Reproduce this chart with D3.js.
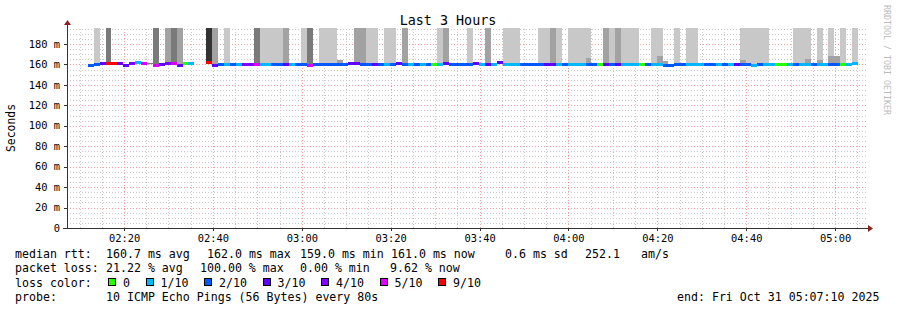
<!DOCTYPE html>
<html>
<head>
<meta charset="utf-8">
<script src="https://cdn.jsdelivr.net/npm/d3@7"></script>
<style>
  html, body { margin: 0; padding: 0; background: #fff; }
  svg { display: block; font-family: "DejaVu Sans Mono", monospace; }
</style>
</head>
<body>
<div id="chart"></div>
<script>
// time window of the graph and the rrd step grid
const viewStart = new Date(2025, 9, 31, 2, 7, 10);
const viewEnd = new Date(2025, 9, 31, 5, 7, 10);
const firstStep = new Date(2025, 9, 31, 2, 11, 50);
const stepSeconds = 80;

// median rtt per step (ms), null = no answer
const median = [
  159.6, 160.8, 160.9, 161.2, 161.2, 161.0, 159.8, 161.0, 162.0, 161.0,
  null, 159.3, 160.6, 161.2, 161.3, 159.8, 161.0, 161.0, null, null,
  162.0, 159.9, 160.4, 160.2, 160.8, 160.6, 160.4, 160.2, 160.2, 160.6,
  160.6, 160.5, 160.3, 160.8, 160.4, 160.3, 160.3, 159.8, 160.4, 160.3,
  160.5, 160.5, 160.4, 160.3, 161.0, 160.9, 160.5, 160.5, 160.8, 160.4,
  160.3, 160.5, 160.9, 160.5, 160.6, 160.4, 160.6, 160.6, 160.5, 160.3,
  161.4, 160.8, 160.4, 160.5, 160.4, 161.0, 160.3, 160.6, 160.3, 162.0,
  160.4, 160.3, 160.5, 160.4, 160.4, 160.5, 160.5, 160.8, 160.6, 160.4,
  160.7, 160.3, 160.3, 160.2, 160.5, 160.6, 160.4, 160.6, 160.7, 160.8,
  160.3, 160.3, 160.4, 160.4, 160.5, 160.3, 160.3, 159.9, 159.8, 160.5,
  160.5, 160.4, 160.4, 160.3, 160.4, 160.5, 160.3, 160.5, 160.4, 160.8,
  160.6, 160.5, 159.2, 160.5, 160.4, 160.3, 160.5, 160.5, 160.4, 160.6,
  160.4, 160.3, 160.5, 160.4, 160.4, 160.6, 160.6, 160.5, 160.4, 161.0
];

// lost pings out of 10 per step
const loss = [
  2, 2, 3, 9, 9, 3, 3, 4, 1, 5,
  null, 5, 3, 4, 5, 3, 0, 1, null, null,
  9, 3, 2, 1, 2, 1, 4, 4, 5, 1,
  1, 2, 2, 3, 1, 2, 2, 5, 2, 2,
  2, 2, 2, 2, 3, 3, 2, 2, 3, 2,
  1, 2, 3, 2, 1, 2, 1, 2, 0, 1,
  3, 2, 2, 2, 2, 3, 1, 3, 1, 3,
  1, 1, 1, 2, 2, 2, 2, 3, 3, 1,
  2, 1, 1, 1, 2, 2, 0, 3, 2, 3,
  1, 1, 1, 0, 2, 1, 1, 2, 2, 2,
  2, 1, 1, 1, 2, 2, 1, 2, 1, 3,
  2, 2, 1, 2, 1, 1, 0, 0, 1, 2,
  1, 1, 2, 1, 1, 2, 2, 0, 1, 1
];

// smoke (spread of the single pings): step index, shade level, top value in ms
const smokeStep = [1, 3, 10, 11, 13, 14, 15, 20, 21, 23, 28, 29, 30, 31, 32, 33, 36, 37, 39, 40,
  41, 42, 45, 46, 47, 48, 50, 51, 53, 59, 60, 64, 67, 70, 71, 72, 76, 77, 78, 79,
  81, 82, 83, 84, 84, 87, 88, 89, 90, 91, 92, 95, 96, 96, 97, 99, 101, 102, 110, 110,
  111, 112, 113, 114, 119, 120, 121, 121, 123, 123, 125, 125, 126, 127, 129];
const smokeShade = [1, 3, 3, 3, 2, 3, 2, 4, 2, 1, 3, 1, 1, 1, 1, 2, 1, 3, 1, 1,
  1, 2, 2, 2, 1, 1, 1, 1, 2, 1, 2, 1, 2, 1, 1, 1, 1, 1, 2, 1,
  1, 1, 1, 1, 2, 2, 1, 2, 1, 1, 1, 1, 1, 2, 2, 1, 1, 1, 1, 2,
  1, 1, 1, 1, 1, 1, 1, 2, 1, 2, 1, 2, 2, 1, 1];
const smokeTop = [250, 250, 161.8, 250, 250, 250, 250, 250, 250, 250, 250, 250, 250, 250, 250, 250, 250, 250, 250, 250,
  250, 164.5, 250, 250, 250, 250, 250, 250, 250, 250, 250, 250, 250, 250, 250, 250, 250, 250, 250, 250,
  250, 250, 250, 250, 166, 250, 250, 250, 250, 250, 250, 250, 250, 168, 163, 250, 250, 250, 250, 164,
  250, 250, 250, 250, 250, 250, 250, 165, 250, 164, 250, 168, 168, 250, 250];
const smokeBase = 160;

const shadeColors = ["none", "#c8c8c8", "#a2a2a2", "#7a7a7a", "#333333"];

const lossLevels = [0, 1, 2, 3, 4, 5, 9];
const lossLabels = ["0", "1/10", "2/10", "3/10", "4/10", "5/10", "9/10"];
const lossColors = ["#26ff00", "#00b8ff", "#0059ff", "#5e00ff", "#7e00ff", "#dd00ff", "#ff0000"];

const yLabelTicks = [0, 20, 40, 60, 80, 100, 120, 140, 160, 180];
const yMax = 195.6;

const width = 897, height = 310;
const margin = { left: 67, right: 30, top: 28, bottom: 82 };

const svg = d3.select("#chart").append("svg")
  .attr("width", width)
  .attr("height", height);

svg.append("rect").attr("width", width).attr("height", height).attr("fill", "#fff");

const x = d3.scaleTime()
  .domain([viewStart, viewEnd])
  .range([margin.left, width - margin.right]);

const y = d3.scaleLinear()
  .domain([0, yMax])
  .range([height - margin.bottom, margin.top]);

const x0 = x.range()[0], x1 = x.range()[1];
const y0 = y.range()[0], y1 = y.range()[1];

const stepTime = i => new Date(firstStep.getTime() + i * stepSeconds * 1000);

// grid
const grid = svg.append("g").attr("shape-rendering", "crispEdges");
const minorY = d3.range(5, yMax, 5).filter(v => v % 20 !== 0);
grid.selectAll(".gy").data(minorY).enter().append("line")
  .attr("x1", x0).attr("x2", x1)
  .attr("y1", d => Math.round(y(d)) + 0.5).attr("y2", d => Math.round(y(d)) + 0.5)
  .attr("stroke", "#c8c8c8").attr("stroke-dasharray", "1,2");
const minorX = d3.timeMinute.every(5).range(viewStart, viewEnd).filter(d => d.getMinutes() % 20 !== 0);
grid.selectAll(".gx").data(minorX).enter().append("line")
  .attr("y1", y0).attr("y2", y1)
  .attr("x1", d => Math.round(x(d)) + 0.5).attr("x2", d => Math.round(x(d)) + 0.5)
  .attr("stroke", "#c8c8c8").attr("stroke-dasharray", "1,2");
grid.selectAll(".my").data(yLabelTicks.slice(1)).enter().append("line")
  .attr("x1", x0).attr("x2", x1)
  .attr("y1", d => Math.round(y(d)) + 0.5).attr("y2", d => Math.round(y(d)) + 0.5)
  .attr("stroke", "#f0a0a0").attr("stroke-dasharray", "1,2");
const majorX = d3.timeMinute.every(20).range(viewStart, viewEnd);
grid.selectAll(".mx").data(majorX).enter().append("line")
  .attr("y1", y0).attr("y2", y1)
  .attr("x1", d => Math.round(x(d)) + 0.5).attr("x2", d => Math.round(x(d)) + 0.5)
  .attr("stroke", "#f0a0a0").attr("stroke-dasharray", "1,2");

// smoke
const smoke = svg.append("g").attr("shape-rendering", "crispEdges");
smokeStep.forEach((s, k) => {
  const top = Math.min(smokeTop[k], yMax);
  const xa = Math.round(x(stepTime(s))), xb = Math.round(x(stepTime(s + 1)));
  smoke.append("rect")
    .attr("x", xa).attr("width", xb - xa)
    .attr("y", Math.round(y(top)))
    .attr("height", Math.round(y(smokeBase)) - Math.round(y(top)))
    .attr("fill", shadeColors[smokeShade[k]]);
});

// median line coloured by loss
const line = svg.append("g").attr("shape-rendering", "crispEdges");
median.forEach((m, i) => {
  if (m === null || loss[i] === null) return;
  const xa = Math.round(x(stepTime(i))), xb = Math.round(x(stepTime(i + 1)));
  line.append("rect")
    .attr("x", xa).attr("width", xb - xa)
    .attr("y", Math.round(y(m)) - 1).attr("height", 3)
    .attr("fill", lossColors[lossLevels.indexOf(loss[i])]);
});

// axes
const axisColor = "#333";
const arrowColor = "#8b2222";
const ax = svg.append("g").attr("shape-rendering", "crispEdges");
ax.append("line").attr("x1", x0 + 0.5).attr("x2", x0 + 0.5).attr("y1", y0 + 0.5).attr("y2", y1 - 5).attr("stroke", axisColor);
ax.append("line").attr("x1", x0 - 4).attr("x2", x1 + 2).attr("y1", y0 + 0.5).attr("y2", y0 + 0.5).attr("stroke", axisColor);
ax.selectAll(".ty").data(yLabelTicks).enter().append("line")
  .attr("x1", x0 - 3).attr("x2", x0)
  .attr("y1", d => Math.round(y(d)) + 0.5).attr("y2", d => Math.round(y(d)) + 0.5)
  .attr("stroke", axisColor);
ax.selectAll(".tx").data(majorX).enter().append("line")
  .attr("y1", y0).attr("y2", y0 + 3)
  .attr("x1", d => Math.round(x(d)) + 0.5).attr("x2", d => Math.round(x(d)) + 0.5)
  .attr("stroke", axisColor);
svg.append("path")
  .attr("d", `M${x0 - 3},${y1 - 3} L${x0 + 4},${y1 - 3} L${x0 + 0.5},${y1 - 8} Z`)
  .attr("fill", arrowColor);
svg.append("path")
  .attr("d", `M${x1 + 1},${y0 - 3} L${x1 + 1},${y0 + 4} L${x1 + 6},${y0 + 0.5} Z`)
  .attr("fill", arrowColor);

// tick labels
svg.selectAll(".yl").data(yLabelTicks).enter().append("text")
  .attr("x", 60).attr("y", d => y(d) + 3.7)
  .attr("text-anchor", "end")
  .style("font-size", "10.4px")
  .text(d => d === 0 ? "0" : `${d} m`);
svg.selectAll(".xl").data(majorX).enter().append("text")
  .attr("x", d => x(d) + 0.5).attr("y", 242)
  .attr("text-anchor", "middle")
  .style("font-size", "10.4px")
  .text(d3.timeFormat("%H:%M"));

// title, y label, watermark
svg.append("text").attr("x", 448).attr("y", 25).attr("text-anchor", "middle")
  .style("font-size", "13.4px").text("Last 3 Hours");
svg.append("text").attr("transform", `translate(15,${(y0 + y1) / 2}) rotate(-90)`)
  .attr("text-anchor", "middle").style("font-size", "11.4px").text("Seconds");
svg.append("text").attr("transform", "translate(884,5) rotate(90)")
  .style("font-size", "8.3px").attr("fill", "#bbb").text("RRDTOOL / TOBI OETIKER");

// legend
const fs = "11.6px";
const row = (yy, parts) => parts.forEach(([xx, t]) =>
  svg.append("text").attr("x", xx).attr("y", yy).style("font-size", fs)
    .attr("xml:space", "preserve").text(t));

row(258, [[15, "median rtt:"], [106, "160.7 ms avg"], [207, "162.0 ms max"], [300, "159.0 ms min"],
  [391, "161.0 ms now"], [505, "0.6 ms sd"], [585, "252.1"], [641, "am/s"]]);
row(272.3, [[15, "packet loss:"], [106, "21.22 % avg"], [200, "100.00 % max"], [300, "0.00 % min"], [390, "9.62 % now"]]);
row(286.6, [[15, "loss color:"]]);
row(301, [[15, "probe:"], [106, "10 ICMP Echo Pings (56 Bytes) every 80s"], [677, "end: Fri Oct 31 05:07:10 2025"]]);

let bx = 108;
lossLabels.forEach((lab, k) => {
  svg.append("rect").attr("x", bx + 0.5).attr("y", 278.5).attr("width", 7).attr("height", 7)
    .attr("fill", lossColors[k]).attr("stroke", "#000").attr("shape-rendering", "crispEdges");
  svg.append("text").attr("x", bx + 15).attr("y", 286.6).style("font-size", fs).text(lab);
  bx += 15 + lab.length * 7 + 15.5;
});
</script>
</body>
</html>
